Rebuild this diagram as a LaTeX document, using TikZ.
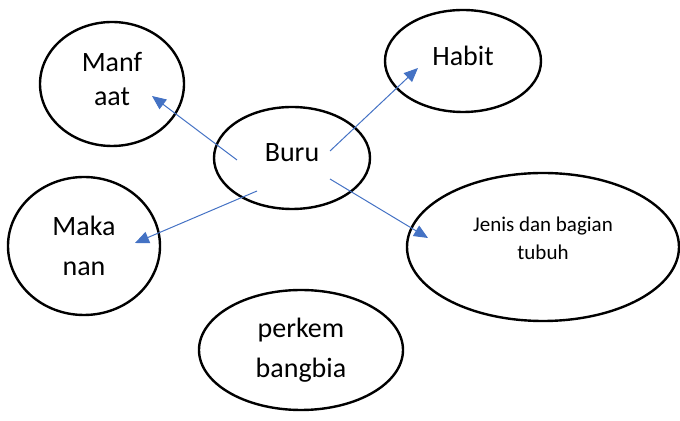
\documentclass[tikz,border=0pt]{standalone}
\usepackage{fontspec}
\setmainfont{Carlito}
\usetikzlibrary{shapes.geometric,arrows.meta}

\begin{document}
\begin{tikzpicture}[x=0.5pt, y=-0.5pt,
		bubble_style/.style={ellipse,draw=black,line width=1.2pt,inner sep=0pt,align=center,font=\fontsize{14}{17}\selectfont},
		arrow_style/.style={draw=arrowblue,line width=0.5pt,-{Triangle[length=7pt,width=6pt]}}]
		\definecolor{arrowblue}{HTML}{4472C4}
		\useasboundingbox (0,0) rectangle (680,421);
		
		\node[bubble_style,minimum width=72pt,minimum height=62pt] (manfaat) at (112,84)  {Manf\\aat\\[-12pt]\mbox{}};
		\node[bubble_style,minimum width=78pt,minimum height=51pt] (habit) at (463,61)  {Habit\\[-12pt]\mbox{}};
		\node[bubble_style,minimum width=78pt,minimum height=51pt] (buru) at (292,158)  {Buru\\[-12pt]\mbox{}};
		\node[bubble_style,minimum width=76pt,minimum height=69pt,font=\fontsize{14}{20}\selectfont] (makanan) at (84,246)  {Maka\\nan};
		\node[bubble_style,minimum width=136pt,minimum height=74pt,font=\fontsize{10.5}{14}\selectfont] (jenis) at (543,247)  {Jenis dan bagian\\tubuh\\[-5pt]\mbox{}};
		\node[bubble_style,minimum width=102pt,minimum height=60pt,font=\fontsize{14}{20}\selectfont] (perkem) at (301,350)  {perkem\\bangbia};
		
		\coordinate (buru_nw) at (237,160);
		\coordinate (buru_ne) at (330,151);
		\coordinate (buru_sw) at (257,191);
		\coordinate (buru_se) at (330,179);
		\coordinate (manfaat_in) at (152,96);
		\coordinate (habit_in) at (418,68);
		\coordinate (makanan_in) at (135,243);
		\coordinate (jenis_in) at (428,238);
		
		\draw[arrow_style]  (buru_nw) -- (manfaat_in);
		\draw[arrow_style]  (buru_ne) -- (habit_in);
		\draw[arrow_style]  (buru_sw) -- (makanan_in);
		\draw[arrow_style]  (buru_se) -- (jenis_in);
		
		\end{tikzpicture}
\end{document}
